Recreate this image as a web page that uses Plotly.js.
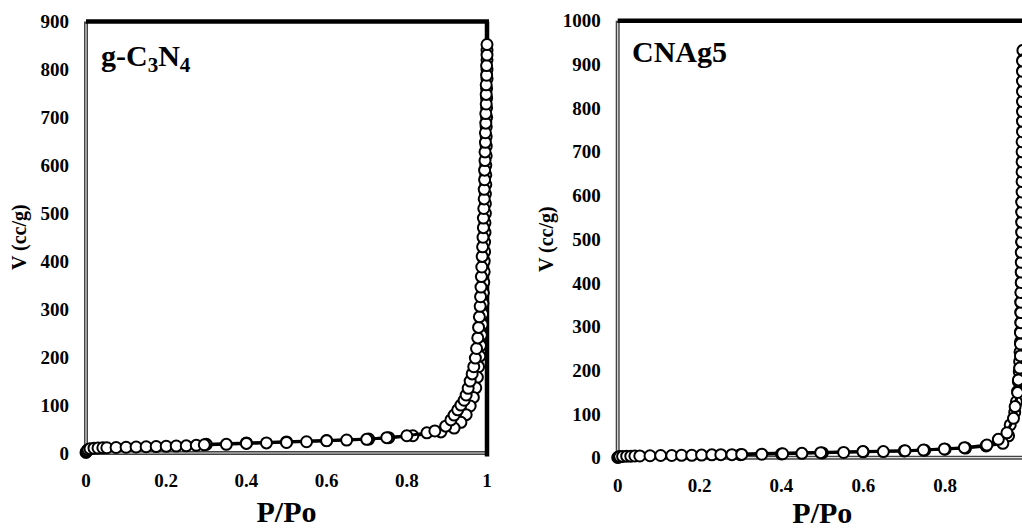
<!DOCTYPE html>
<html>
<head>
<meta charset="utf-8">
<script src="https://cdn.plot.ly/plotly-3.0.1.min.js"></script>
<style>
html,body{margin:0;padding:0;overflow:hidden;background:#fff;}
#chart{width:1060px;height:529px;}
</style>
</head>
<body>
<div id="chart"></div>
<script>
// ---- g-C3N4 : adsorption branch ----
const gAdsX = [0, 0.002, 0.005, 0.01, 0.02, 0.03, 0.042, 0.052, 0.075, 0.1,
  0.125, 0.15, 0.175, 0.2, 0.225, 0.25, 0.275, 0.295, 0.35, 0.4,
  0.45, 0.5, 0.55, 0.6, 0.65, 0.7, 0.75, 0.8, 0.85, 0.87,
  0.897, 0.91, 0.918, 0.927, 0.935, 0.943, 0.948, 0.953, 0.958, 0.963,
  0.967, 0.971, 0.974, 0.977, 0.979, 0.981, 0.983, 0.984, 0.985, 0.986,
  0.987, 0.988, 0.989, 0.99, 0.991, 0.991, 0.992, 0.993, 0.993, 0.994,
  0.994, 0.995, 0.995, 0.996, 0.996, 0.997, 0.997, 0.998, 0.998, 0.998,
  0.999, 0.999, 1.0, 1.0];
const gAdsV = [1, 4, 7, 9, 10, 10.5, 11, 11, 11.5, 12,
  12.5, 13, 13.5, 14, 14.5, 15, 16, 17, 18, 20,
  21, 22, 23.5, 25.5, 27, 28.5, 32, 36, 42, 46,
  56, 69, 79, 90, 100, 110, 121, 135, 150, 165,
  180, 198, 218, 240, 262, 284, 306, 326, 346, 368,
  388, 410, 430, 450, 470, 490, 510, 530, 550, 570,
  590, 610, 628, 648, 668, 688, 708, 728, 748, 768,
  788, 808, 830, 852];
// ---- g-C3N4 : desorption branch ----
const gDesX = [1.0, 1.0, 1.0, 1.0, 0.999, 0.999, 0.999, 0.999, 0.998, 0.998,
  0.998, 0.998, 0.997, 0.997, 0.997, 0.996, 0.996, 0.996, 0.995, 0.995,
  0.994, 0.994, 0.993, 0.993, 0.992, 0.991, 0.99, 0.989, 0.988, 0.986,
  0.984, 0.982, 0.979, 0.976, 0.972, 0.966, 0.958, 0.948, 0.935, 0.918,
  0.885, 0.815, 0.755, 0.705, 0.6, 0.5, 0.4, 0.3];
const gDesV = [840, 820, 800, 780, 760, 740, 720, 700, 680, 660,
  640, 620, 600, 580, 560, 540, 520, 500, 480, 460,
  440, 420, 400, 378, 356, 334, 312, 290, 268, 246,
  224, 202, 180, 158, 136, 116, 98, 80, 64, 52,
  44, 36, 32, 29, 26, 23, 21, 18];

// ---- CNAg5 : adsorption branch ----
const cAdsX = [0, 0.002, 0.005, 0.012, 0.022, 0.032, 0.042, 0.054, 0.079, 0.105,
  0.132, 0.156, 0.181, 0.205, 0.23, 0.252, 0.279, 0.303, 0.352, 0.403,
  0.45, 0.496, 0.552, 0.599, 0.649, 0.702, 0.747, 0.798, 0.847, 0.902,
  0.93, 0.951, 0.967, 0.971, 0.977, 0.979, 0.982, 0.984, 0.984, 0.984,
  0.985, 0.985, 0.985, 0.985, 0.986, 0.986, 0.986, 0.986, 0.987, 0.987,
  0.987, 0.987, 0.987, 0.988, 0.988, 0.988, 0.988, 0.988, 0.988, 0.989,
  0.989, 0.989, 0.989, 0.989, 0.989, 0.989, 0.989];
const cAdsV = [0.5, 1.5, 2.5, 3, 3.5, 3.5, 4, 4, 4.5, 5,
  5, 5.5, 5.5, 6, 6.5, 7, 7, 7.5, 8, 9,
  10, 11.5, 12, 14, 14, 16, 17.5, 20, 23, 29,
  42, 57, 90, 117, 149, 178, 205, 233, 260, 286,
  309, 332, 356, 378, 401, 425, 447, 470, 494, 516,
  539, 562, 585, 608, 632, 654, 677, 700, 723, 746,
  770, 792, 815, 838, 862, 884, 908];
// ---- CNAg5 : desorption branch ----
const cDesX = [0.99, 0.99, 0.99, 0.99, 0.99, 0.99, 0.99, 0.99, 0.99, 0.99,
  0.989, 0.989, 0.989, 0.989, 0.989, 0.988, 0.988, 0.988, 0.988, 0.987,
  0.987, 0.987, 0.986, 0.986, 0.986, 0.985, 0.985, 0.985, 0.984, 0.984,
  0.983, 0.982, 0.981, 0.979, 0.977, 0.974, 0.97, 0.959, 0.955, 0.941,
  0.9, 0.85, 0.8, 0.75, 0.7, 0.6, 0.5, 0.4, 0.3];
const cDesV = [932, 910, 886, 862, 840, 816, 794, 770, 748, 724,
  700, 678, 654, 632, 608, 586, 562, 540, 516, 494,
  470, 448, 424, 400, 378, 356, 333, 310, 288, 265,
  242, 220, 197, 174, 152, 128, 104, 75, 50, 33,
  27, 22, 19.5, 17, 15.5, 13.5, 11, 8.5, 7];

const gXTickVals = [0, 0.2, 0.4, 0.6, 0.8, 1];
const gXTickText = ['0', '0.2', '0.4', '0.6', '0.8', '1'];
const cXTickVals = [0, 0.2, 0.4, 0.6, 0.8];
const cXTickText = ['0', '0.2', '0.4', '0.6', '0.8'];
const gYTicks = [0, 100, 200, 300, 400, 500, 600, 700, 800, 900];
const cYTicks = [0, 100, 200, 300, 400, 500, 600, 700, 800, 900, 1000];

const FONT = 'Liberation Serif, Times New Roman, serif';

function branch(x, y, xa, ya, blackFirst) {
  const fill = x.map((_, i) => (blackFirst && i === 0) ? '#000' : '#fff');
  return {
    x: x, y: y, xaxis: xa, yaxis: ya, type: 'scatter', mode: 'lines+markers',
    cliponaxis: false, showlegend: false, hoverinfo: 'x+y',
    line: {color: '#000', width: 3},
    marker: {symbol: 'circle', size: 11, color: fill, line: {color: '#000', width: 2}}
  };
}

const data = [
  branch(gDesX, gDesV, 'x', 'y', false),
  branch(gAdsX, gAdsV, 'x', 'y', true),
  branch(cDesX, cDesV, 'x2', 'y2', false),
  branch(cAdsX, cAdsV, 'x2', 'y2', true)
];

const W = 1060, H = 529;
const tickFont = {family: FONT, size: 19, color: '#000', weight: 'bold'};

function xAxis(domain, anchor, tv, tt, standoff) {
  return {
    domain: domain, anchor: anchor, range: [0, 1], tickmode: 'array',
    tickvals: tv, ticktext: tt, showgrid: false, zeroline: false,
    showline: false, ticks: '', ticklabelstandoff: 14, tickfont: tickFont,
    automargin: false, fixedrange: true,
    title: {text: 'P/Po', standoff: standoff, font: {family: FONT, size: 30, color: '#000', weight: 'bold'}}
  };
}
function yAxis(domain, anchor, maxv, ticks, standoff) {
  return {
    domain: domain, anchor: anchor, range: [0, maxv], tickmode: 'array',
    tickvals: ticks, showgrid: false, zeroline: false, showline: false,
    ticks: '', ticklabelstandoff: 16, tickfont: tickFont, automargin: false, fixedrange: true,
    title: {text: 'V (cc/g)', standoff: standoff, font: {family: FONT, size: 20, color: '#000', weight: 'bold'}}
  };
}

function frame(xr, yr) {
  const xd = xr + ' domain', yd = yr + ' domain';
  return [
    {type: 'line', layer: 'below', xref: xd, yref: yd, x0: 0, x1: 0, y0: -0.005, y1: 1, line: {color: '#444', width: 4}},
    {type: 'line', layer: 'below', xref: xd, yref: yd, x0: 0, x1: 1, y0: 0, y1: 0, line: {color: '#444', width: 4}},
    {type: 'line', layer: 'below', xref: xd, yref: yd, x0: 0, x1: 0, y0: 0, y1: 0.995, line: {color: '#ddd', width: 1.2}},
    {type: 'line', layer: 'below', xref: xd, yref: yd, x0: 0.003, x1: 1, y0: 0, y1: 0, line: {color: '#ddd', width: 1.2}},
    {type: 'line', layer: 'below', xref: xd, yref: yd, x0: 0, x1: 1.005, y0: 1, y1: 1, line: {color: '#000', width: 4.5}},
    {type: 'line', layer: 'below', xref: xd, yref: yd, x0: 1, x1: 1, y0: -0.008, y1: 1, line: {color: '#000', width: 4.5}}
  ];
}

const layout = {
  width: W, height: H,
  margin: {l: 0, r: 0, t: 0, b: 0, pad: 0},
  paper_bgcolor: '#fff', plot_bgcolor: '#fff',
  font: {family: FONT, color: '#000'},
  xaxis: xAxis([86 / W, 487 / W], 'y', gXTickVals, gXTickText, 10),
  yaxis: yAxis([(H - 453) / H, (H - 21.5) / H], 'x', 900, gYTicks, 8),
  xaxis2: xAxis([617.7 / W, 1027 / W], 'y2', cXTickVals, cXTickText, 13),
  yaxis2: yAxis([(H - 457.7) / H, (H - 20.7) / H], 'x2', 1000, cYTicks, 3),
  shapes: frame('x', 'y').concat(frame('x2', 'y2')),
  annotations: [
    {xref: 'x domain', yref: 'y domain', x: 0.032, y: 0.915, xanchor: 'left', yanchor: 'middle',
     text: 'g-C<sub>3</sub>N<sub>4</sub>', showarrow: false,
     font: {family: FONT, size: 30, color: '#000', weight: 'bold'}},
    {xref: 'x2 domain', yref: 'y2 domain', x: 0.03, y: 0.93, xanchor: 'left', yanchor: 'middle',
     text: 'CNAg5', showarrow: false,
     font: {family: FONT, size: 30, color: '#000', weight: 'bold'}}
  ]
};

Plotly.newPlot('chart', data, layout, {staticPlot: true, displayModeBar: false});
</script>
</body>
</html>
